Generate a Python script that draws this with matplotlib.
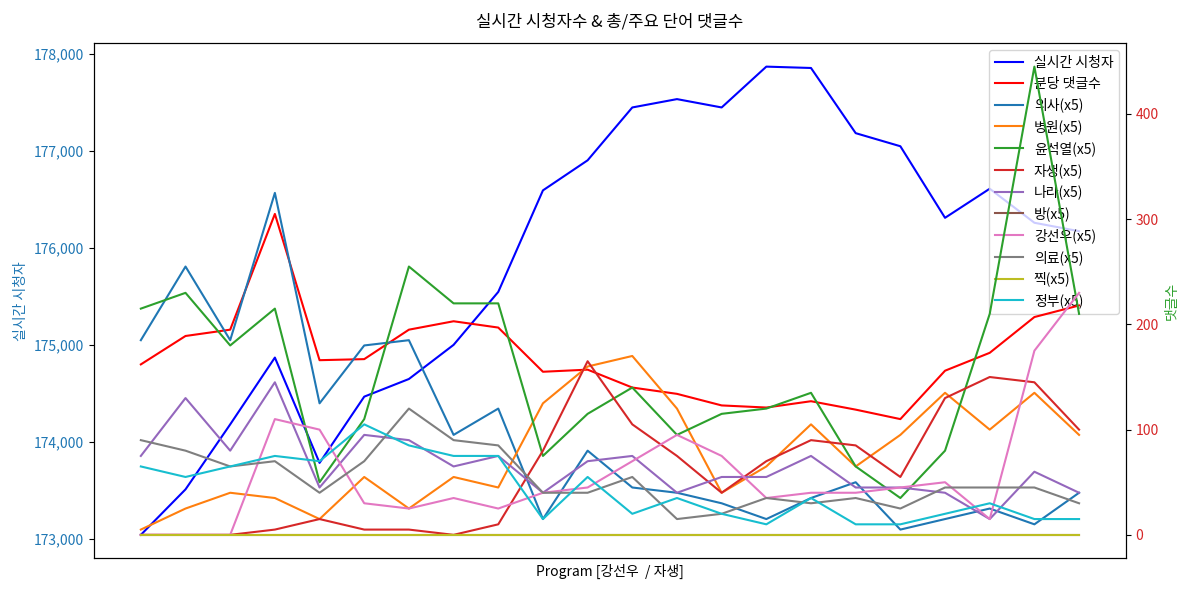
import matplotlib
matplotlib.use("Agg")
import matplotlib.pyplot as plt
from matplotlib.ticker import FuncFormatter

plt.rcParams['font.family'] = ['Noto Sans CJK KR', 'DejaVu Sans']
plt.rcParams['axes.unicode_minus'] = False

x = list(range(22))

viewers = [173041, 173510, 174180, 174869, 173783, 174466, 174648, 175000, 175546, 176593, 176903,
           177448, 177534, 177448, 177869, 177855, 177183, 177048, 176310, 176610, 176259, 176172]
comments = [162, 189, 195, 305, 166, 167, 195, 203, 197, 155, 157,
            140, 134, 123, 121, 127, 119, 110, 156, 173, 207, 218]

word_labels = ['의사', '병원', '윤석열', '자생', '나라', '방', '강선우', '의료', '찍', '정부']
w_doctor = [185, 255, 185, 325, 125, 180, 185, 95, 120, 15, 80, 45, 40, 30, 15, 35, 50, 5, 15, 25, 10, 40]
w_hospital = [5, 25, 40, 35, 15, 55, 25, 55, 45, 125, 160, 170, 120, 40, 65, 105, 65, 95, 135, 100, 135, 95]
w_yoon = [215, 230, 180, 215, 50, 110, 255, 220, 220, 75, 115, 140, 95, 115, 120, 135, 65, 35, 80, 210, 445, 210]
w_jaseng = [0, 0, 0, 5, 15, 5, 5, 0, 10, 80, 165, 105, 75, 40, 70, 90, 85, 55, 130, 150, 145, 100]
w_nara = [75, 130, 80, 145, 45, 95, 90, 65, 75, 40, 70, 75, 40, 55, 55, 75, 45, 45, 40, 15, 60, 40]
w_bang = [0] * 22
w_kang = [0, 0, 0, 110, 100, 30, 25, 35, 25, 40, 45, 70, 95, 75, 35, 40, 40, 45, 50, 15, 175, 230]
w_medical = [90, 80, 65, 70, 40, 70, 120, 90, 85, 40, 40, 55, 15, 20, 35, 30, 35, 25, 45, 45, 45, 30]
w_jjik = [0] * 22
w_gov = [65, 55, 65, 75, 70, 105, 85, 75, 75, 15, 55, 20, 35, 20, 10, 35, 10, 10, 20, 30, 15, 15]
word_series = [w_doctor, w_hospital, w_yoon, w_jaseng, w_nara, w_bang, w_kang, w_medical, w_jjik, w_gov]

fig, ax1 = plt.subplots(figsize=(11.89, 5.92), dpi=100)
ax2 = ax1.twinx()

l1, = ax1.plot(x, viewers, color='blue', lw=1.5, label='실시간 시청자')
l2, = ax2.plot(x, comments, color='red', lw=1.5, label='분당 댓글수')
handles = [l1, l2]
for i, (name, vals) in enumerate(zip(word_labels, word_series)):
    h, = ax2.plot(x, vals, color=f'C{i}', lw=1.5, label=f'{name}(x5)')
    handles.append(h)

ax1.set_xticks([])
ax1.set_xlabel('Program [강선우  / 자생]')
ax1.set_ylabel('실시간 시청자', color='tab:blue')
ax1.tick_params(axis='y', labelcolor='tab:blue')
ax1.yaxis.set_major_formatter(FuncFormatter(lambda v, p: f'{int(v):,}'))
ax1.set_yticks([173000, 174000, 175000, 176000, 177000, 178000])

ax2.set_ylabel('댓글수', color='tab:green')
ax2.tick_params(axis='y', labelcolor='tab:red')
ax2.set_yticks([0, 100, 200, 300, 400])

ax1.legend(handles, [h.get_label() for h in handles], loc='upper right')
ax1.set_title('실시간 시청자수 & 총/주요 단어 댓글수', pad=12)

fig.subplots_adjust(left=0.079, right=0.947, top=0.927, bottom=0.057)
fig.savefig('out.png')
